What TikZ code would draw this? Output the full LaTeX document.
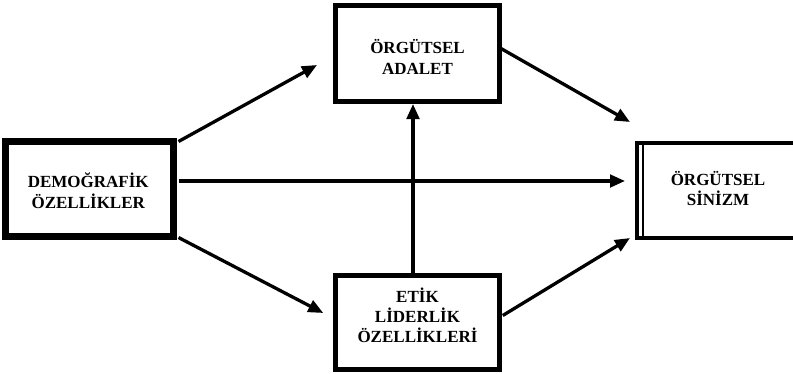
\documentclass[tikz,border=0pt]{standalone}
\usepackage{fontspec}
\setmainfont{Liberation Serif}
\usetikzlibrary{arrows.meta,calc}
\begin{document}
\begin{tikzpicture}[x=1pt,y=-1pt,
  box/.style={draw=black, rectangle},
  lbl/.style={align=center, inner sep=0pt, font=\bfseries\fontsize{17}{21}\selectfont},
  arr/.style={line width=3.3pt, -{Triangle[length=15pt,width=12.5pt]}}]
\useasboundingbox (0,0) rectangle (793,373);
\clip (0,0) rectangle (793,373);
\node[box, line width=7pt, minimum width=167.5pt, minimum height=95pt] (dem) at (89.25,188.5) {};
\node[box, line width=5pt, minimum width=164pt, minimum height=96pt] (adalet) at (417.5,53.5) {};
\node[box, line width=4.5pt, minimum width=164pt, minimum height=94pt] (etik) at (417.5,322.5) {};
\node[box, line width=4pt, outer sep=0pt, minimum width=193pt, minimum height=95pt] (sinizm) at (733.5,190.5) {};
\draw[line width=1.5pt] ($(sinizm.north west)+(6,0)$) -- ($(sinizm.south west)+(6,0)$);
\node[lbl] (demtext) at ($(dem)+(-1,2.5)$) {DEMOĞRAFİK\\ÖZELLİKLER};
\node[lbl] (adalettext) at ($(adalet)+(0,3.5)$) {ÖRGÜTSEL\\ADALET};
\node[lbl, font=\bfseries\fontsize{17}{20}\selectfont] (etiktext) at ($(etik)+(0,-7)$) {ETİK\\LİDERLİK\\ÖZELLİKLERİ};
\node[lbl, font=\bfseries\fontsize{17}{20}\selectfont] (sinizmtext) at (718,189) {ÖRGÜTSEL\\SİNİZM};
\draw[arr] ($(dem.north east)+(2,4)$) -- ($(adalet.west)+(-16,11.5)$);
\draw[arr] ($(dem.south east)+(2,-2)$) -- ($(etik.west)+(-10,-9.5)$);
\draw[arr] ($(dem.east)+(2,-7.5)$) -- ($(sinizm.west)+(-12,-9.5)$);
\draw[arr] ($(adalet.east)+(-1,-5)$) -- ($(sinizm.north west)+(-7,-21)$);
\draw[arr] ($(etik.east)+(1,-7)$) -- ($(sinizm.south west)+(-7,0)$);
\draw[arr] ($(etik.north)+(-4.5,0)$) -- ($(adalet.south)+(-4.5,0)$);
\end{tikzpicture}
\end{document}
